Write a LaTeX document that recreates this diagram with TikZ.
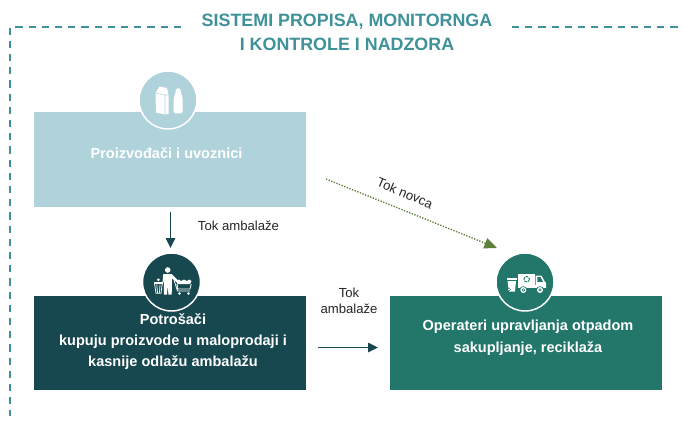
\documentclass[tikz,border=0pt]{standalone}
\usepackage{fontspec}
\setmainfont{Liberation Sans}
\usetikzlibrary{arrows.meta}
\definecolor{teal1}{HTML}{3F9299}
\definecolor{lightb}{HTML}{B0D2DB}
\definecolor{darkb}{HTML}{17474F}
\definecolor{greenb}{HTML}{22766A}
\definecolor{olive}{HTML}{5F7F3C}
\tikzset{
  titletxt/.style={font=\fontsize{13.4}{18}\selectfont\bfseries,text=teal1,align=center,inner sep=0},
  boxtxt/.style={font=\fontsize{10.9}{15.6}\selectfont\bfseries,text=white,align=center,inner sep=0},
  boxtxtb/.style={font=\fontsize{10.9}{16.5}\selectfont\bfseries,text=white,align=center,inner sep=0},
  lbl/.style={font=\fontsize{9.85}{12}\selectfont,text=black!85,align=center,inner sep=0},
  boxa/.style={fill=lightb,draw=none},
  circ/.style={circle,draw=white,line width=1.1pt,minimum size=43.5pt,inner sep=0},
  dashb/.style={draw=teal1,line width=1.3pt,dash pattern=on 5.4pt off 4.5pt},
  darrow/.style={draw=darkb,line width=1.1pt,-{Triangle[length=7.5pt,width=7pt]}},
  oarrow/.style={draw=olive,line width=1pt,dash pattern=on 1pt off 1.1pt,-{Triangle[length=9.5pt,width=8pt,fill=olive]}},
}
\begin{document}
\begin{tikzpicture}[x=0.75pt,y=-0.75pt]
\useasboundingbox (0,0) rectangle (684,422);
\fill[white] (0,0) rectangle (684,422);
% frame
\coordinate (fa) at (181,27);
\coordinate (fb) at (10,27);
\coordinate (fc) at (10,416);
\coordinate (fd) at (512,27);
\coordinate (fe) at (684,27);
\draw[dashb] (fa) -- (fb) -- (fc);
\draw[dashb] (fd) -- (fe);
\node[titletxt] (title) at (347,32) {SISTEMI PROPISA, MONITORNGA\\I KONTROLE I NADZORA};
% boxes
\node[boxa,minimum width=204pt,minimum height=71.25pt,inner sep=0] (prod) at (170,159.5) {};
\node[fill=darkb,minimum width=204pt,minimum height=70.5pt,inner sep=0] (potr) at (170,343) {};
\node[fill=greenb,minimum width=204.5pt,minimum height=70.5pt,inner sep=0] (oper) at (526,343) {};
% circles
\node[circ,fill=lightb] (c1) at (168,100) {};
\node[circ,fill=darkb] (c2) at (171.5,282) {};
\node[circ,fill=greenb] (c3) at (525,282) {};
% texts
\node[boxtxt] (t1) at (166.5,153) {Proizvođači i uvoznici};
\node[boxtxt] (t2) at (173,341.5) {Potrošači\\kupuju proizvode u maloprodaji i\\kasnije odlažu ambalažu};
\node[boxtxtb] (t3) at (528,337.5) {Operateri upravljanja otpadom\\sakupljanje, reciklaža};
% connectors
\coordinate (a1s) at (170.5,212);
\coordinate (a1e) at (170.5,248);
\draw[darrow] (a1s) -- (a1e);
\coordinate (a2s) at (318,347.5);
\coordinate (a2e) at (378,347.5);
\draw[darrow] (a2s) -- (a2e);
\coordinate (a3s) at (326,179);
\coordinate (a3e) at (497,248);
\draw[oarrow] (a3s) -- (a3e);
\node[lbl] (l1) at (238.5,226) {Tok ambalaže};
\node[lbl] (l2) at (349,301) {Tok\\ambalaže};
\node[lbl,rotate=-23] (l3) at (405,193) {Tok novca};
% icon 1: carton and bottle
\fill[white] (156,112.5) -- (155.5,93) -- (159.5,86.5) -- (167,88) -- (168.5,95) -- (168.5,114) -- (165,114.5) -- cycle;
\draw[lightb,line width=0.4pt] (155.5,93) -- (165,95) -- (165,114.5) (165,95) -- (168.5,95);
\fill[white,rounded corners=1.2pt] (173.7,113.3) -- (173.7,97) -- (175.7,93) -- (175.7,88.3) -- (180.7,88.3) -- (180.7,93) -- (182.7,97) -- (182.7,113.3) -- cycle;
% icon 2: person, bin, cart
\fill[white] (167.7,270) circle (2.8);
\fill[white] (163.3,274) -- (171.7,274) -- (178.5,281) -- (177,282.5) -- (172,278.5) -- (171.7,294.5) -- (168.4,294.5) -- (167.7,285) -- (167,294.5) -- (164,294.5) -- (163.8,282) -- (162.5,282) -- cycle;
\fill[white] (154,281.7) rectangle (162.7,283.5);
\draw[white,line width=0.55pt] (154.5,283.5) -- (156,293.3) -- (161,293.3) -- (162.3,283.5) (156.8,284.5) -- (157.5,292.5) (160,284.5) -- (159.5,292.5) (158.4,279.8) circle (1);
\fill[white] (176.5,281) -- (179,279.5) -- (181,281) -- (184,279.5) -- (187,281) -- (189,279.5) -- (191.5,281) -- (190,284) -- (177.5,284) -- cycle;
\draw[white,line width=0.6pt] (174,280) -- (177.5,291) -- (190,291) (177,284) -- (178,289) -- (190,289) -- (191.2,284);
\fill[white] (179.5,293.5) circle (1.3) (188.5,293.5) circle (1.3);
% icon 3: bin and truck
\fill[white] (506.7,278) -- (516.7,278) -- (516.7,280) -- (506.7,280) -- cycle;
\fill[white] (507.5,281) -- (516,281) -- (515,291.7) -- (509,291.7) -- cycle;
\fill[greenb] (509,289.5) circle (1.8);
\fill[white] (509,289.5) circle (1.1);
\fill[white] (517.7,274) rectangle (535,284.5);
\fill[white] (535.7,275.7) -- (541.5,275.7) -- (545,282) -- (546,283) -- (546,287.7) -- (535.7,287.7) -- cycle;
\fill[white] (517.7,285.3) rectangle (546,287.7);
\fill[greenb] (537.3,277.2) -- (540.5,277.2) -- (543,281.8) -- (537.3,281.8) -- cycle;
\draw[greenb,line width=0.7pt,dash pattern=on 2.2pt off 0.6pt] (526.7,279.2) circle (2.7);
\fill[greenb] (523.3,290) circle (3.8) (540,290) circle (3.8);
\fill[white] (523.3,290) circle (3) (540,290) circle (3);
\fill[greenb] (523.3,290) circle (1.7) (540,290) circle (1.7);
\fill[white] (523.3,290) circle (0.7) (540,290) circle (0.7);
\end{tikzpicture}
\end{document}
